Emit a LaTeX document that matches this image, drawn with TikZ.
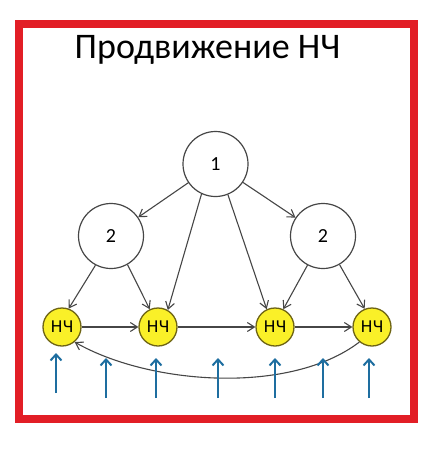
\documentclass[tikz,border=0pt]{standalone}
\usepackage{fontspec}
\setmainfont{Carlito}
\newfontfamily\dvs{DejaVu Sans}
\usetikzlibrary{arrows.meta}
\definecolor{frame}{RGB}{226,30,38}
\definecolor{hc}{RGB}{250,240,40}
\definecolor{hcb}{RGB}{110,100,20}
\definecolor{con}{RGB}{70,70,70}
\definecolor{blu}{RGB}{30,110,160}
\tikzset{
  big/.style={circle,draw=con,line width=1.2pt,minimum size=65pt,inner sep=0pt,font=\fontsize{20}{20}\selectfont},
  nch/.style={circle,draw=hcb,fill=hc,line width=1.3pt,minimum size=38pt,inner sep=0pt,font=\dvs\fontsize{16}{16}\selectfont},
  conn/.style={draw=con,line width=1.1pt,-{Straight Barb[length=7pt,width=9pt]}},
  up/.style={draw=blu,line width=2pt,-{Straight Barb[length=6pt,width=11pt]}}
}
\begin{document}
\begin{tikzpicture}[x=1pt,y=-1pt]
\useasboundingbox (0,0) rectangle (432,450);
\draw[frame,line width=8pt] (18.5,23.5) rectangle (413.5,419);
\node[font=\fontsize{36}{36}\selectfont,anchor=base,inner sep=0pt] (title) at (207.5,58) {Продвижение НЧ};
\node[big] (one) at (215.5,164) {1};
\node[big] (twoL) at (111,236) {2};
\node[big] (twoR) at (323,236) {2};
\node[nch] (h1) at (62,327) {НЧ};
\node[nch] (h2) at (158,327) {НЧ};
\node[nch] (h3) at (275,327) {НЧ};
\node[nch] (h4) at (372,327) {НЧ};
\draw[conn] (one) -- (twoL);
\draw[conn] (one) -- (twoR);
\draw[conn] (one.-115) -- (h2.60);
\draw[conn] (one.-68) -- (h3.115);
\draw[conn] (twoL.-118) -- (h1.70);
\draw[conn] (twoL.-60) -- (h2.115);
\draw[conn] (twoR.-118) -- (h3.65);
\draw[conn] (twoR.-60) -- (h4.112);
\draw[conn] (h1) -- (h2);
\draw[conn] (h2) -- (h3);
\draw[conn] (h3) -- (h4);
\draw[conn] (h4.-130) .. controls (290,395) and (150,385) .. (h1.-50);
\coordinate (b1) at (56,393); \coordinate (t1) at (56,353);
\coordinate (b2) at (106,398); \coordinate (t2) at (106,358);
\coordinate (b3) at (156,398); \coordinate (t3) at (156,358);
\coordinate (b4) at (218,398); \coordinate (t4) at (218,358);
\coordinate (b5) at (275,398); \coordinate (t5) at (275,358);
\coordinate (b6) at (323,398); \coordinate (t6) at (323,358);
\coordinate (b7) at (369,398); \coordinate (t7) at (369,358);
\foreach \i in {1,...,7} \draw[up] (b\i) -- (t\i);
\end{tikzpicture}
\end{document}
